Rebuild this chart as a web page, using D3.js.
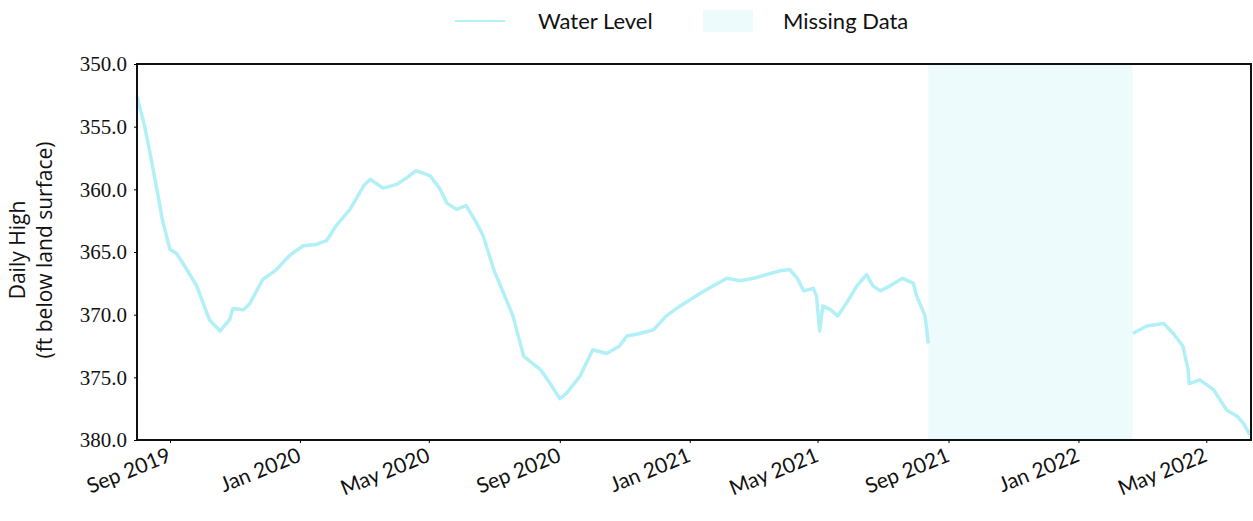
<!DOCTYPE html>
<html><head><meta charset="utf-8">
<script src="https://cdn.jsdelivr.net/npm/d3@7"></script>
<style>
body{margin:0;background:#fff;}
svg{display:block;}
</style></head>
<body>
<svg id="chart" width="1253" height="521"></svg>
<script>
const dates = ["2019-08-01","2019-08-08","2019-08-13","2019-08-19","2019-08-25","2019-09-01","2019-09-07","2019-09-16","2019-09-26","2019-10-08","2019-10-18","2019-10-22","2019-10-27","2019-10-30","2019-11-09","2019-11-15","2019-11-27","2019-12-10","2019-12-22","2020-01-04","2020-01-16","2020-01-26","2020-02-04","2020-02-17","2020-03-01","2020-03-07","2020-03-19","2020-04-01","2020-04-10","2020-04-19","2020-05-02","2020-05-11","2020-05-18","2020-05-27","2020-06-05","2020-06-15","2020-06-21","2020-07-01","2020-07-19","2020-07-29","2020-08-14","2020-08-23","2020-09-01","2020-09-07","2020-09-20","2020-10-02","2020-10-15","2020-10-27","2020-11-03","2020-11-15","2020-11-28","2020-12-10","2020-12-23","2021-01-11","2021-01-23","2021-02-05","2021-02-17","2021-03-02","2021-03-14","2021-03-27","2021-04-05","2021-04-12","2021-04-18","2021-04-27","2021-04-30","2021-05-03","2021-05-06","2021-05-13","2021-05-20","2021-05-28","2021-06-07","2021-06-16","2021-06-22","2021-06-29","2021-07-08","2021-07-20","2021-07-30","2021-08-02","2021-08-10","2021-08-13","2021-11-15","2022-02-21","2022-03-06","2022-03-22","2022-03-31","2022-04-09","2022-04-14","2022-04-15","2022-04-25","2022-05-08","2022-05-20","2022-05-30","2022-06-05","2022-06-11"];
const waterLevel = [352.6,354.9,357.0,359.7,362.5,364.8,365.1,366.3,367.7,370.4,371.3,370.9,370.4,369.5,369.6,369.1,367.2,366.4,365.3,364.5,364.4,364.1,362.9,361.6,359.7,359.2,359.9,359.6,359.1,358.5,358.9,359.9,361.1,361.6,361.3,362.7,363.7,366.4,370.1,373.3,374.4,375.5,376.7,376.3,374.9,372.8,373.1,372.5,371.7,371.5,371.2,370.1,369.3,368.3,367.7,367.1,367.3,367.1,366.8,366.5,366.4,367.1,368.1,367.9,368.5,371.3,369.3,369.6,370.1,369.1,367.7,366.8,367.7,368.1,367.7,367.1,367.5,368.5,370.1,372.3,null,371.5,370.9,370.7,371.5,372.5,374.4,375.5,375.2,376.0,377.6,378.1,378.7,379.6];
const missingPeriod = ["2021-08-13","2022-02-21"];
const xDomain = ["2019-08-01","2022-06-12"];
const yDomain = [350, 380];
const yTicks = [350,355,360,365,370,375,380];
const xTicks = ["2019-09-01","2020-01-01","2020-05-01","2020-09-01","2021-01-01","2021-05-01","2021-09-01","2022-01-01","2022-05-01"];
const legendLabels = ["Water Level","Missing Data"];
const yTitle = ["Daily High","(ft below land surface)"];

const parse = d3.utcParse("%Y-%m-%d");
const data = dates.map((d,i)=>({date:parse(d), v:waterLevel[i]}));

const svg = d3.select("#chart");
const m = {l:137, r:1251, t:64, b:440};
const x = d3.scaleUtc().domain(xDomain.map(parse)).range([m.l, m.r]);
const y = d3.scaleLinear().domain(yDomain).range([m.t, m.b]);

const lineColor = "#b0f0f6";
const missColor = "#edfbfc";

// missing data band
svg.append("rect")
  .attr("x", x(parse(missingPeriod[0])))
  .attr("width", x(parse(missingPeriod[1])) - x(parse(missingPeriod[0])))
  .attr("y", m.t).attr("height", m.b - m.t)
  .attr("fill", missColor);

// line
const line = d3.line().defined(d=>d.v!==null).x(d=>x(d.date)).y(d=>y(d.v));
svg.append("path").datum(data)
  .attr("d", line).attr("fill","none")
  .attr("stroke", lineColor).attr("stroke-width",3.5).attr("stroke-linejoin","round");

// frame
svg.append("rect").attr("x",m.l).attr("y",m.t).attr("width",m.r-m.l).attr("height",m.b-m.t)
  .attr("fill","none").attr("stroke","#111").attr("stroke-width",2);

// y axis
const yAxis = svg.append("g").attr("transform",`translate(${m.l},0)`)
  .call(d3.axisLeft(y).tickValues(yTicks).tickFormat(d3.format(".1f")).tickSize(3).tickPadding(7));
yAxis.select(".domain").remove();
yAxis.selectAll("text").attr("font-family","Liberation Serif").attr("font-size",21).attr("fill","#111");

// x axis
const xAxis = svg.append("g").attr("transform",`translate(0,${m.b})`)
  .call(d3.axisBottom(x).tickValues(xTicks.map(parse)).tickFormat(d3.utcFormat("%b %Y")).tickSize(3));
xAxis.select(".domain").remove();
xAxis.selectAll("text")
  .attr("font-family","Lato").attr("font-size",21).attr("fill","#111")
  .attr("text-anchor","end").attr("x",-6).attr("y",5).attr("dy","0.71em")
  .attr("transform","rotate(-22)");

// y title
const yt = svg.append("text").attr("transform","translate(0,250) rotate(-90)")
  .attr("text-anchor","middle").attr("font-family","Open Sans").attr("font-size",21).attr("fill","#111");
yt.append("tspan").attr("x",0).attr("y",25).text(yTitle[0]);
yt.append("tspan").attr("x",0).attr("y",52).text(yTitle[1]);

// legend
const lg = svg.append("g");
lg.append("line").attr("x1",455).attr("x2",505).attr("y1",21).attr("y2",21).attr("stroke",lineColor).attr("stroke-width",2);
lg.append("text").attr("x",538).attr("y",29).attr("font-family","Lato").attr("font-size",22).attr("fill","#111").text(legendLabels[0]);
lg.append("rect").attr("x",703).attr("y",10).attr("width",50).attr("height",22).attr("fill",missColor);
lg.append("text").attr("x",783).attr("y",29).attr("font-family","Lato").attr("font-size",22).attr("fill","#111").text(legendLabels[1]);
</script>
</body></html>
